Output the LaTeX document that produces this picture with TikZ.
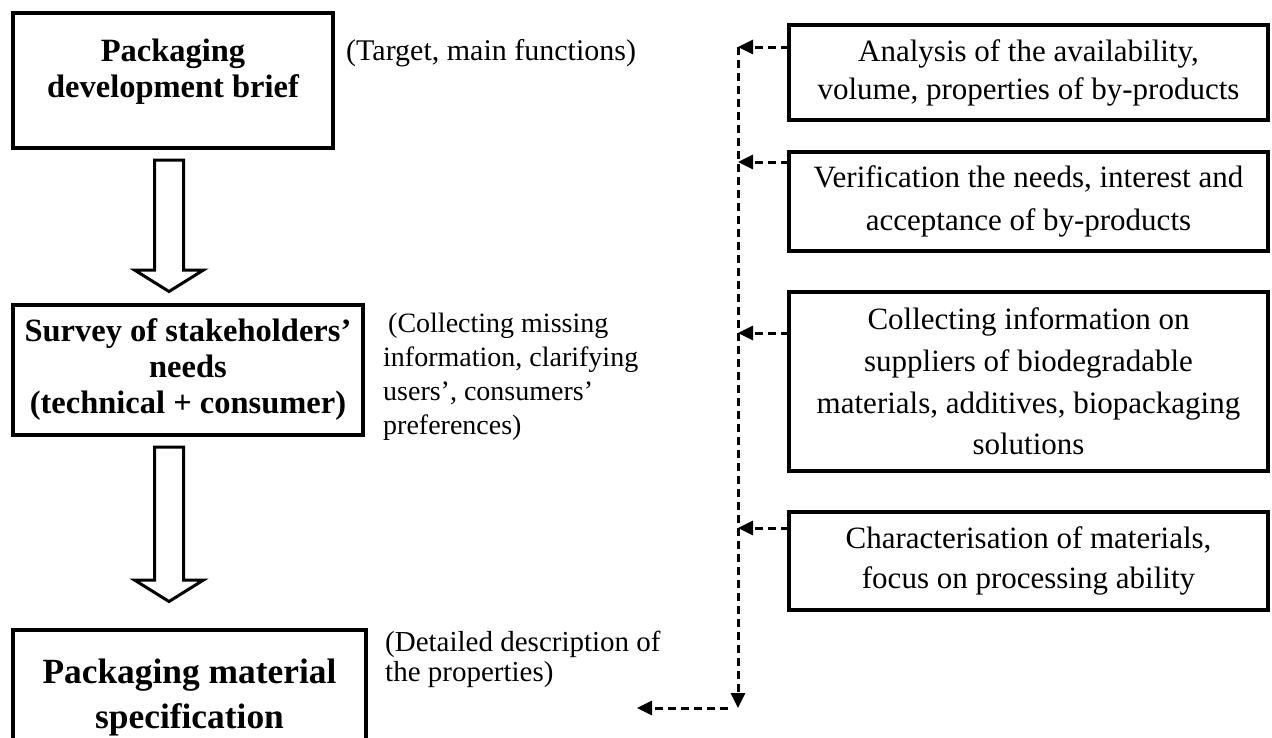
\documentclass[tikz,border=0pt]{standalone}
\usepackage{fontspec}
\setmainfont{Liberation Serif}
\usetikzlibrary{arrows.meta,calc}
\begin{document}
\begin{tikzpicture}[x=1pt,y=-1pt,
  mainbox/.style={draw,line width=3.5pt,inner sep=0pt,outer sep=0pt,align=center,font=\bfseries\fontsize{32.5}{36}\selectfont},
  sidebox/.style={draw,line width=3.5pt,inner sep=0pt,outer sep=0pt,align=center,font=\fontsize{31}{40}\selectfont},
  note/.style={inner sep=0pt,anchor=base west,font=\fontsize{29}{31}\selectfont},
  dasharr/.style={dash pattern=on 8pt off 5pt,line width=3pt,-{Triangle[length=15pt,width=14pt]}},
  blockarrow/.style={draw,line width=3pt,fill=white,line join=miter}
]
\useasboundingbox (0,0) rectangle (1272,737);

% left column
\node[mainbox,minimum width=320pt,minimum height=135pt] (brief) at (173,80.5) {\raisebox{8pt}[\height][\depth]{\begin{tabular}{@{}c@{}}Packaging\\development brief\end{tabular}}};
\node[mainbox,minimum width=350pt,minimum height=130pt] (survey) at (188,370) {Survey of stakeholders'\\needs\\(technical + consumer)};
\node[mainbox,font=\bfseries\fontsize{35.4}{45}\selectfont,minimum width=353pt,minimum height=135pt] (spec) at (189.5,697.5) {Packaging material\\specification};

% block arrows
\draw[blockarrow] ($(brief.south)+(-18.5,12)$) -- ++(29,0) -- ++(0,110) -- ++(20,0) -- ++(-34.5,21.5) -- ++(-34.5,-21.5) -- ++(20,0) -- cycle;
\draw[blockarrow] ($(survey.south)+(-33.5,12)$) -- ++(29,0) -- ++(0,133) -- ++(20,0) -- ++(-34.5,21.5) -- ++(-34.5,-21.5) -- ++(20,0) -- cycle;

% notes
\node[note,font=\fontsize{30}{31}\selectfont] (n1) at (346,60) {(Target, main functions)};
\node[note,font=\fontsize{28}{34}\selectfont] (n2) at (383,332) {\begin{tabular}[t]{@{}l@{}}\hspace{5pt}(Collecting missing\\information, clarifying\\users', consumers'\\preferences)\end{tabular}};
\node[note,font=\fontsize{29}{30}\selectfont] (n3) at (385,651) {\begin{tabular}[t]{@{}l@{}}(Detailed description of\\the properties)\end{tabular}};

% right column
\node[sidebox,font=\fontsize{31}{38}\selectfont,minimum width=479pt,minimum height=95pt] (anal) at (1028.5,72.5) {Analysis of the availability,\\volume, properties of by-products};
\node[sidebox,font=\fontsize{31}{43}\selectfont,minimum width=479pt,minimum height=99pt] (verif) at (1028.5,201.5) {Verification the needs, interest and\\acceptance of by-products};
\node[sidebox,font=\fontsize{31}{41.7}\selectfont,minimum width=479pt,minimum height=179pt] (coll) at (1028.5,381.5) {Collecting information on\\suppliers of biodegradable\\materials, additives, biopackaging\\solutions};
\node[sidebox,font=\fontsize{31}{40}\selectfont,minimum width=479pt,minimum height=98pt] (charac) at (1028.5,561) {Characterisation of materials,\\focus on processing ability};

% dashed bus
\coordinate (jA) at (738,47);
\coordinate (jB) at (738,162);
\coordinate (jC) at (738,333);
\coordinate (jD) at (738,528);
\coordinate (corner) at (738,708);
\coordinate (noteEnd) at (637,708);

\draw[dasharr] (anal.west |- jA) -- (jA);
\draw[dasharr] (verif.west |- jB) -- (jB);
\draw[dasharr] (coll.west |- jC) -- (jC);
\draw[dasharr] (charac.west |- jD) -- (jD);
\draw[dasharr] (jA) -- (corner);
\draw[dasharr] ([xshift=-10pt]corner) -- (noteEnd);
\end{tikzpicture}
\end{document}
